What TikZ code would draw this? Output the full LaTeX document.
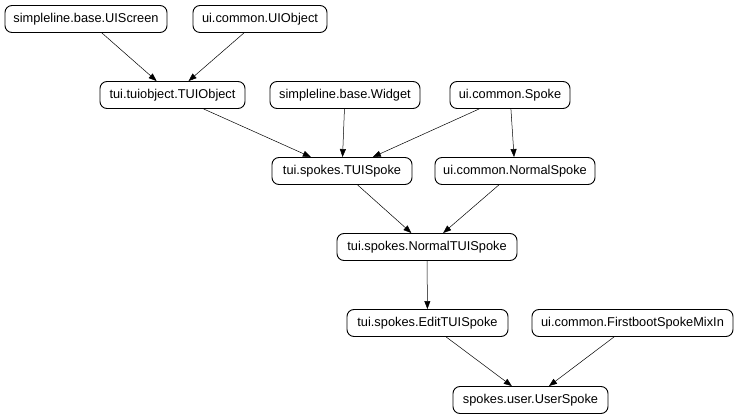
\documentclass[tikz,border=0pt]{standalone}
\usepackage{fontspec}
\setmainfont{Liberation Sans}
\usetikzlibrary{arrows.meta}
\begin{document}
\begin{tikzpicture}[x=1pt,y=-1pt,
  cls/.style={draw=black, line width=0.9pt, rounded corners=7pt, fill=white,
    minimum height=27pt, inner sep=0pt, font=\fontsize{12.8}{14}\selectfont},
  edge/.style={line width=0.5pt, -{Triangle[length=8pt,width=6pt]}}]
\useasboundingbox (0,0) rectangle (740,419);
\node[cls, minimum width=162pt] (uiscreen) at (86,19) {simpleline.base.UIScreen};
\node[cls, minimum width=134pt] (uiobject) at (260,19) {ui.common.UIObject};
\node[cls, minimum width=145pt] (tuiobject) at (172.5,95) {tui.tuiobject.TUIObject};
\node[cls, minimum width=150pt] (widget) at (345,95) {simpleline.base.Widget};
\node[cls, minimum width=120pt] (spoke) at (510,95) {ui.common.Spoke};
\node[cls, minimum width=140pt] (tuispoke) at (342,171) {tui.spokes.TUISpoke};
\node[cls, minimum width=160pt] (normalspoke) at (515,171) {ui.common.NormalSpoke};
\node[cls, minimum width=180pt] (normaltuispoke) at (427,247) {tui.spokes.NormalTUISpoke};
\node[cls, minimum width=161pt] (edittuispoke) at (427.5,323) {tui.spokes.EditTUISpoke};
\node[cls, minimum width=201pt] (firstboot) at (632.5,323) {ui.common.FirstbootSpokeMixIn};
\node[cls, minimum width=155pt] (userspoke) at (530.5,400) {spokes.user.UserSpoke};
\draw[edge] (uiscreen) -- (tuiobject);
\draw[edge] (uiobject) -- (tuiobject);
\draw[edge] (tuiobject) -- (tuispoke);
\draw[edge] (widget) -- (tuispoke);
\draw[edge] (spoke) -- (tuispoke);
\draw[edge] (spoke) -- (normalspoke);
\draw[edge] (tuispoke) -- (normaltuispoke);
\draw[edge] (normalspoke) -- (normaltuispoke);
\draw[edge] (normaltuispoke) -- (edittuispoke);
\draw[edge] (edittuispoke) -- (userspoke);
\draw[edge] (firstboot) -- (userspoke);
\end{tikzpicture}
\end{document}
